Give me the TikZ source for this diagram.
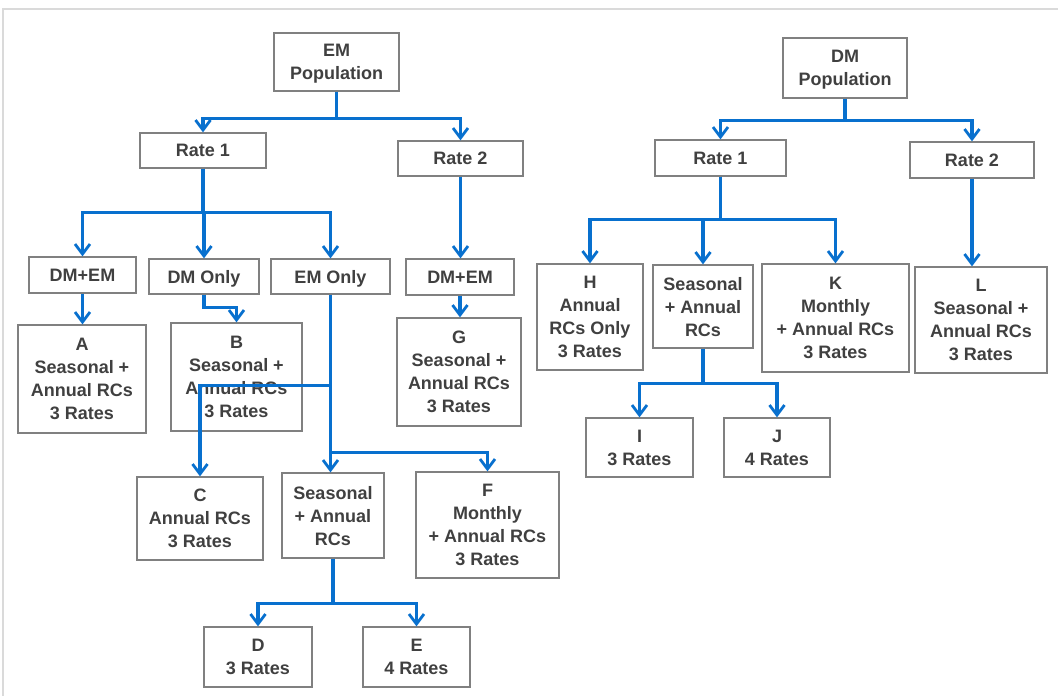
\documentclass[tikz,border=0pt]{standalone}
\usepackage{fontspec}
\setmainfont{Liberation Sans}
\usetikzlibrary{arrows.meta}
\definecolor{linkblue}{RGB}{8,112,206}
\definecolor{boxgray}{RGB}{128,128,128}
\definecolor{txtgray}{RGB}{64,64,64}
\definecolor{framegray}{RGB}{218,218,218}
\tikzset{
  box/.style={draw=boxgray, line width=1.3pt, fill=white, align=center, inner sep=0pt,
    text depth=0pt, text=txtgray, font=\fontsize{18}{23}\selectfont\bfseries},
  link/.style={draw=linkblue, line width=3.2pt, -{Straight Barb[length=10pt,width=15pt,line width=2.8pt]}},
}
\begin{document}
\begin{tikzpicture}[x=1pt,y=-1pt]
\useasboundingbox (0,0) rectangle (1058,696);
\draw[framegray, line width=2pt] (2.5,696) -- (2.5,8.5) -- (1058,8.5);

% EM tree
\node[box, minimum width=125pt, minimum height=58pt] (emp) at (336.5,62) {EM\\Population};
\node[box, minimum width=126pt, minimum height=35pt] (r1L) at (203,150.5) {Rate 1};
\node[box, minimum width=125pt, minimum height=35pt] (r2L) at (460.5,158.5) {Rate 2};
\node[box, minimum width=107pt, minimum height=36pt] (dmemL) at (82.5,275) {DM+EM};
\node[box, minimum width=110pt, minimum height=35pt] (dmonly) at (204,276.5) {DM Only};
\node[box, minimum width=119pt, minimum height=35pt] (emonly) at (330.5,276.5) {EM Only};
\node[box, minimum width=108pt, minimum height=36pt] (dmemR) at (460,277) {DM+EM};
\node[box, minimum width=128pt, minimum height=108pt] (A) at (82,379) {A\\Seasonal +\\Annual RCs\\3 Rates};
\node[box, minimum width=131pt, minimum height=108pt] (B) at (236.5,377) {B\\Seasonal +\\Annual RCs\\3 Rates};
\node[box, minimum width=124pt, minimum height=108pt] (G) at (459,372) {G\\Seasonal +\\Annual RCs\\3 Rates};
\node[box, minimum width=126pt, minimum height=83pt] (C) at (200,518.5) {C\\Annual RCs\\3 Rates};
\node[box, minimum width=102pt, minimum height=85pt] (SAm) at (333,515.5) {Seasonal\\+ Annual\\RCs};
\node[box, minimum width=143pt, minimum height=106pt] (F) at (487.5,525) {F\\Monthly\\+ Annual RCs\\3 Rates};
\node[box, minimum width=108pt, minimum height=60pt] (D) at (258,657) {D\\3 Rates};
\node[box, minimum width=107pt, minimum height=60pt] (E) at (416.5,657) {E\\4 Rates};

% DM tree
\node[box, minimum width=124pt, minimum height=60pt] (dmp) at (845,68) {DM\\Population};
\node[box, minimum width=131pt, minimum height=36pt] (r1R) at (720.5,158) {Rate 1};
\node[box, minimum width=124pt, minimum height=36pt] (r2R) at (972,160) {Rate 2};
\node[box, minimum width=106pt, minimum height=106pt] (H) at (590,317) {H\\Annual\\RCs Only\\3 Rates};
\node[box, minimum width=100pt, minimum height=83pt] (SAr) at (703,306.5) {Seasonal\\+ Annual\\RCs};
\node[box, minimum width=147pt, minimum height=108pt] (K) at (835.5,318) {K\\Monthly\\+ Annual RCs\\3 Rates};
\node[box, minimum width=132pt, minimum height=106pt] (L) at (981,320) {L\\Seasonal +\\Annual RCs\\3 Rates};
\node[box, minimum width=107pt, minimum height=59pt] (I) at (639.5,447.5) {I\\3 Rates};
\node[box, minimum width=106pt, minimum height=59pt] (J) at (777,447.5) {J\\4 Rates};

% connectors EM tree
\draw[link] (emp.south) -- ++(0,27) -| (r1L.north);
\draw[link] (emp.south) -- ++(0,27) -| (r2L.north);
\draw[link] (r1L.south) -- ++(0,44) -| (dmemL.north);
\draw[link] (r1L.south) -- ++(0,44) -| (dmonly.north);
\draw[link] (r1L.south) -- ++(0,44) -| (emonly.north);
\draw[link] (dmemL.south) -- (A.north -| dmemL.south);
\draw[link] (dmonly.south) -- ++(0,13) -| (B.north);
\draw[link] (emonly.south) -- ++(0,91) -| (C.north);
\draw[link] (emonly.south) -- (SAm.north -| emonly.south);
\draw[link] (emonly.south) -- ++(0,158) -| (F.north);
\draw[link] (r2L.south) -- (dmemR.north -| r2L.south);
\draw[link] (dmemR.south) -- (G.north -| dmemR.south);
\draw[link] (SAm.south) -- ++(0,45) -| (D.north);
\draw[link] (SAm.south) -- ++(0,45) -| (E.north);

% connectors DM tree
\draw[link] (dmp.south) -- ++(0,22) -| (r1R.north);
\draw[link] (dmp.south) -- ++(0,22) -| (r2R.north);
\draw[link] (r1R.south) -- ++(0,43) -| (H.north);
\draw[link] (r1R.south) -- ++(0,43) -| (SAr.north);
\draw[link] (r1R.south) -- ++(0,43) -| (K.north);
\draw[link] (r2R.south) -- (L.north -| r2R.south);
\draw[link] (SAr.south) -- ++(0,35) -| (I.north);
\draw[link] (SAr.south) -- ++(0,35) -| (J.north);
\end{tikzpicture}
\end{document}
